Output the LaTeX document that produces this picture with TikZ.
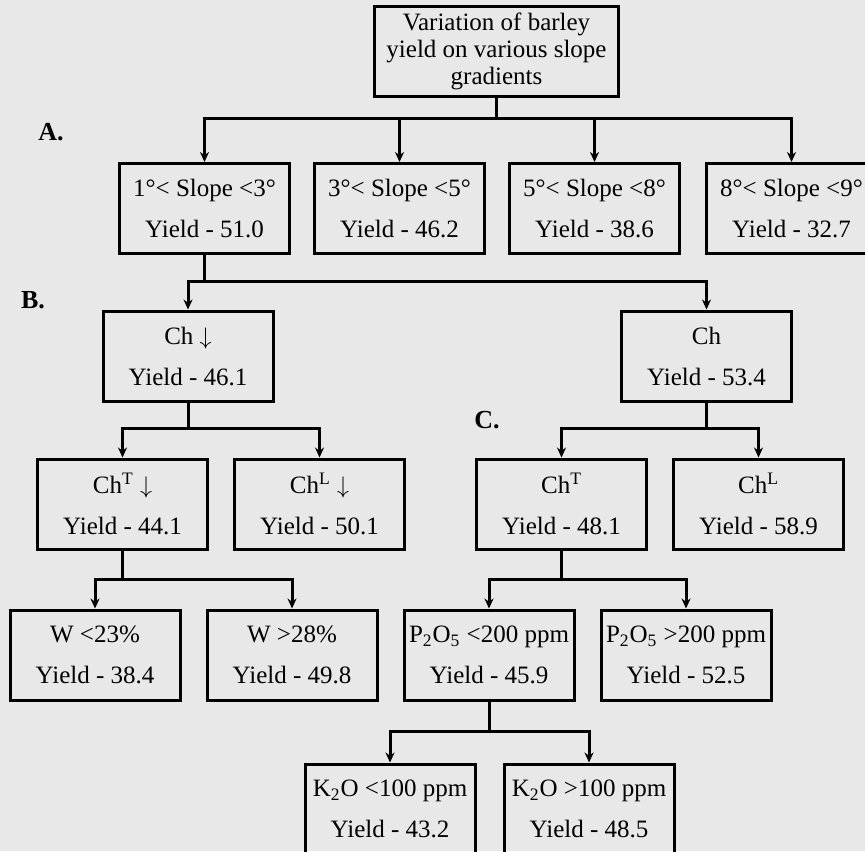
\documentclass[tikz,border=0pt]{standalone}
\usepackage{fontspec}
\setmainfont{Liberation Serif}
\usetikzlibrary{positioning,arrows.meta}
\definecolor{paper}{gray}{0.91}

\begin{document}
\begin{tikzpicture}[x=0.5pt,y=-0.5pt,>={Stealth[length=5pt,width=4.5pt]},
    node distance=11pt,
    box/.style={draw,line width=1.5pt,minimum width=85pt,minimum height=45pt,
                inner sep=0pt,align=center,font=\fontsize{12.5}{13.5}\selectfont},
    link/.style={->,line width=1.5pt},
    tag/.style={font=\fontsize{13}{15}\selectfont\bfseries}]
    \useasboundingbox (0,0) rectangle (865,851);
    \fill[paper] (0,0) rectangle (865,851);
    \clip (0,0) rectangle (865,851);

    % A. slope gradients
    \node[box,minimum width=122pt] (root) at (496.5,51.5)
        {Variation of barley\\yield on various slope\\gradients};
    \node[box] (s1) at (204.5,208.5) {1°< Slope <3°\\[7pt]Yield - 51.0};
    \node[box] (s2) [right=of s1] {3°< Slope <5°\\[7pt]Yield - 46.2};
    \node[box] (s3) [right=of s2] {5°< Slope <8°\\[7pt]Yield - 38.6};
    \node[box] (s4) [right=12pt of s3] {8°< Slope <9°\\[7pt]Yield - 32.7};

    % B. humus
    \node[box] (chd) at (188,356) {Ch $\downarrow$\\[7pt]Yield - 46.1};
    \node[box] (chu) at (706.5,356) {Ch\\[7pt]Yield - 53.4};

    \node[box] (ctd) at (122.5,504) {Ch\textsuperscript{T} $\downarrow$\\[7pt]Yield - 44.1};
    \node[box] (cld) [right=12pt of ctd] {Ch\textsuperscript{L} $\downarrow$\\[7pt]Yield - 50.1};
    \node[box] (ct) at (561.5,504) {Ch\textsuperscript{T}\\[7pt]Yield - 48.1};
    \node[box] (cl) [right=12pt of ct] {Ch\textsuperscript{L}\\[7pt]Yield - 58.9};

    % C. water and nutrients
    \node[box] (w1) at (95,655) {W <23\%\\[7pt]Yield - 38.4};
    \node[box] (w2) [right=12pt of w1] {W >28\%\\[7pt]Yield - 49.8};
    \node[box] (p1) [right=12pt of w2] {P\textsubscript{2}O\textsubscript{5} <200 ppm\\[7pt]Yield - 45.9};
    \node[box] (p2) [right=12pt of p1] {P\textsubscript{2}O\textsubscript{5} >200 ppm\\[7pt]Yield - 52.5};

    \node[box] (k1) at (390,809) {K\textsubscript{2}O <100 ppm\\[7pt]Yield - 43.2};
    \node[box] (k2) [right=13pt of k1] {K\textsubscript{2}O >100 ppm\\[7pt]Yield - 48.5};

    \node[tag] (tagA) at (51,132) {A.};
    \node[tag] (tagB) at (33,300) {B.};
    \node[tag] (tagC) at (487,420) {C.};

    % bus levels
    \coordinate (busA) at (0,118);
    \coordinate (busB) at (0,281);
    \coordinate (busC) at (0,428);
    \coordinate (busD) at (0,579);
    \coordinate (busE) at (0,731);

    \foreach \n in {s1,s2,s3,s4}
        \draw[link] (root.south) -- (root.south |- busA) -| (\n.north);
    \foreach \n in {chd,chu}
        \draw[link] (s1.south) -- (s1.south |- busB) -| (\n.north);
    \foreach \n in {ctd,cld}
        \draw[link] (chd.south) -- (chd.south |- busC) -| (\n.north);
    \foreach \n in {ct,cl}
        \draw[link] (chu.south) -- (chu.south |- busC) -| (\n.north);
    \foreach \n in {w1,w2}
        \draw[link] (ctd.south) -- (ctd.south |- busD) -| (\n.north);
    \foreach \n in {p1,p2}
        \draw[link] (ct.south) -- (ct.south |- busD) -| (\n.north);
    \foreach \n in {k1,k2}
        \draw[link] (p1.south) -- (p1.south |- busE) -| (\n.north);
\end{tikzpicture}
\end{document}
